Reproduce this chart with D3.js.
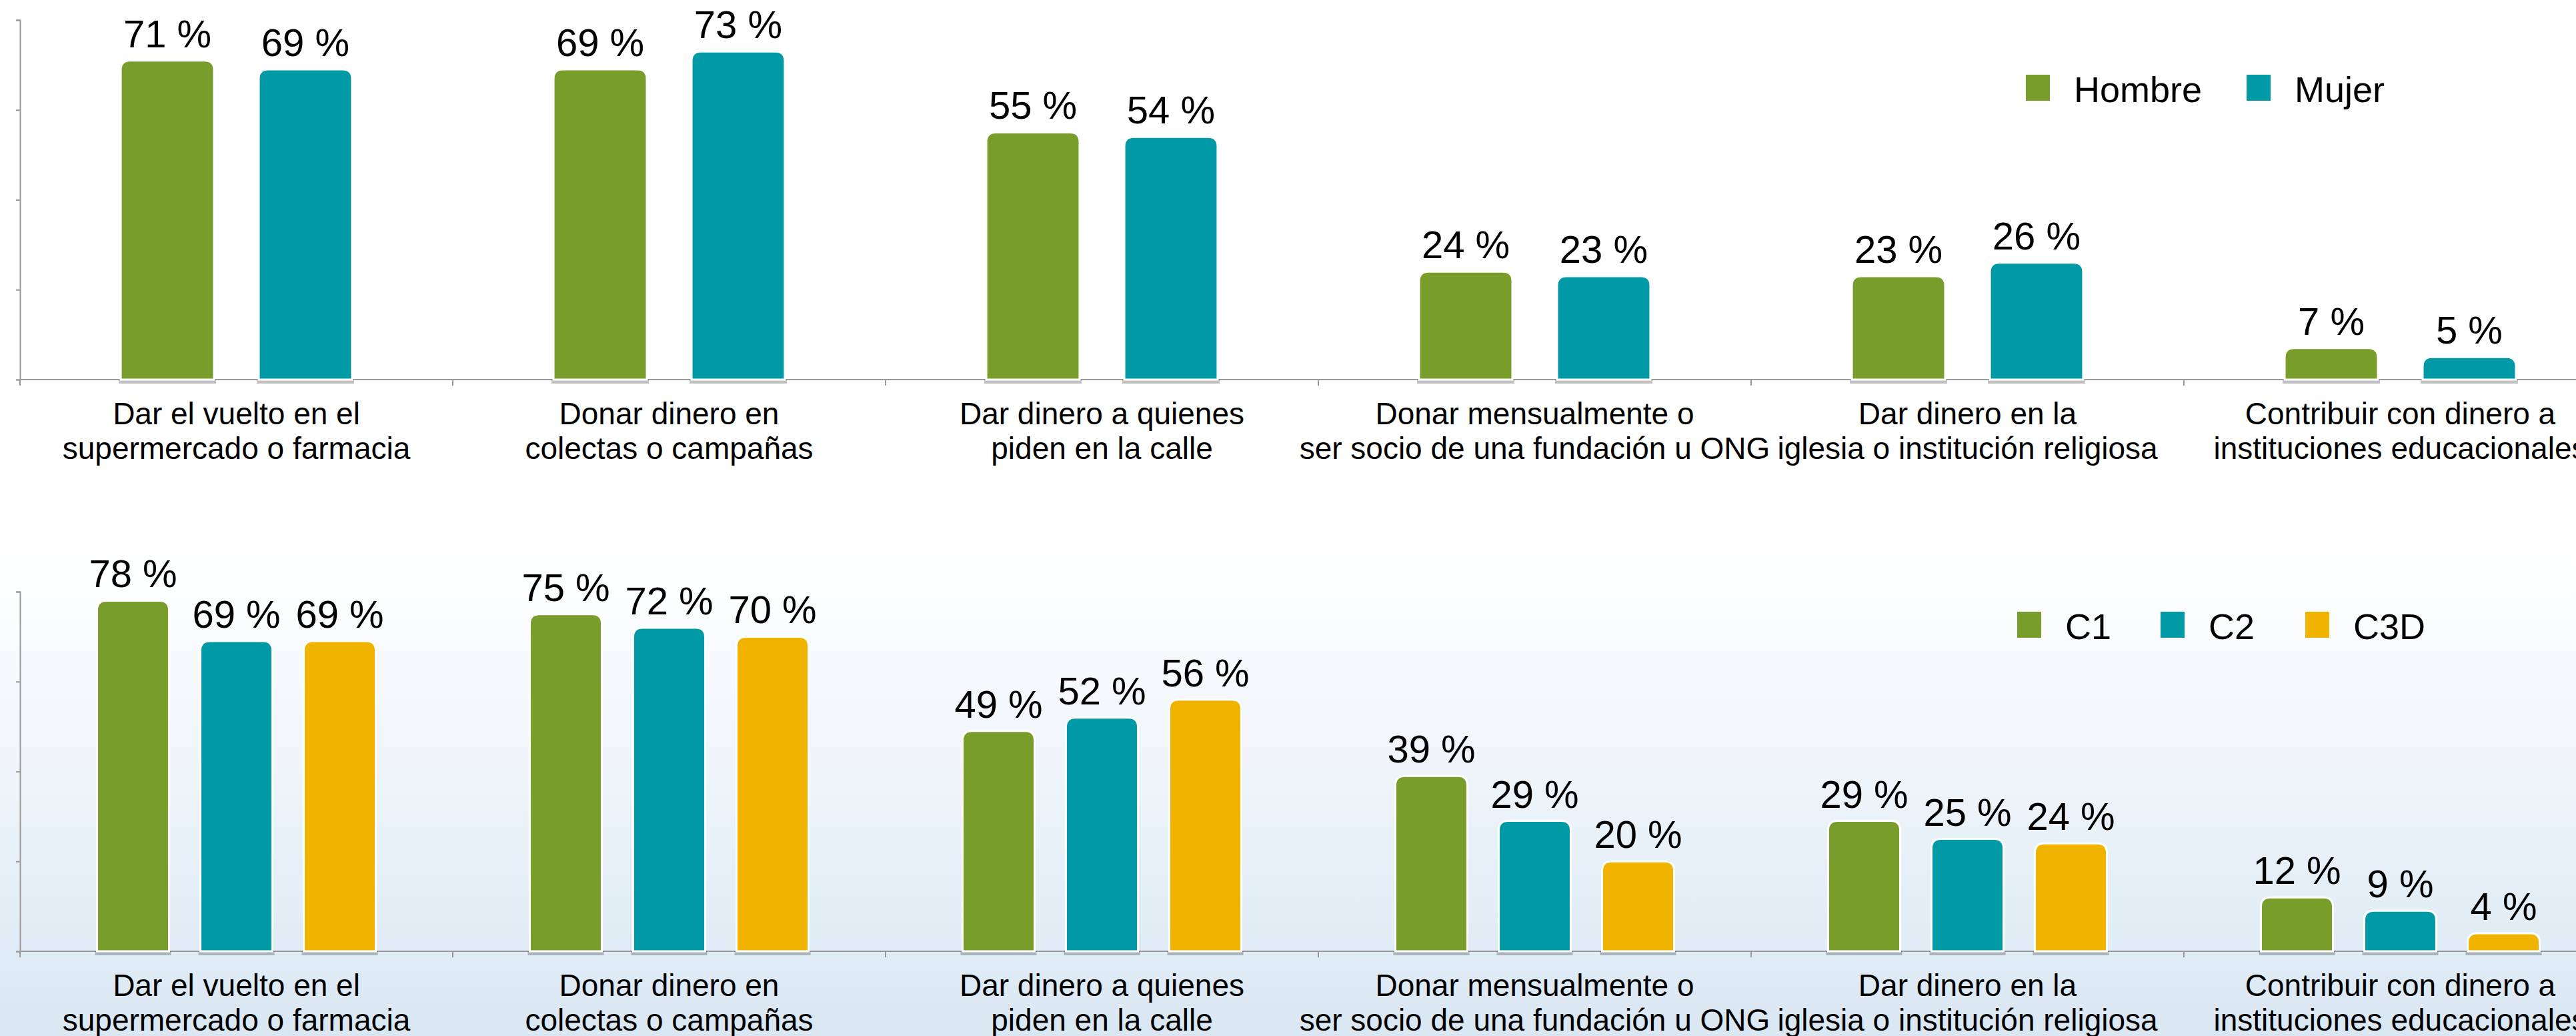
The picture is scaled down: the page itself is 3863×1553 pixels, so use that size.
<!DOCTYPE html>
<html>
<head>
<meta charset="utf-8">
<script src="https://d3js.org/d3.v7.min.js"></script>
<style>
  body { margin: 0; background: #fff; overflow: hidden; }
  svg { display: block; font-family: "Liberation Sans", Arial, Helvetica, sans-serif; }
</style>
</head>
<body>
<script>
// categories (two lines each)
var categories = [
  ["Dar el vuelto en el", "supermercado o farmacia"],
  ["Donar dinero en", "colectas o campañas"],
  ["Dar dinero a quienes", "piden en la calle"],
  ["Donar mensualmente o", "ser socio de una fundación u ONG"],
  ["Dar dinero en la", "iglesia o institución religiosa"],
  ["Contribuir con dinero a", "instituciones educacionales"]
];

// top chart: sexo
var sexoSeries = ["Hombre", "Mujer"];
var hombre = [71, 69, 55, 24, 23, 7];
var mujer  = [69, 73, 54, 23, 26, 5];

// bottom chart: nivel socioeconomico
var nseSeries = ["C1", "C2", "C3D"];
var c1  = [78, 75, 49, 39, 29, 12];
var c2  = [69, 72, 52, 29, 25, 9];
var c3d = [69, 70, 56, 20, 24, 4];

var yTicks = [0, 20, 40, 60, 80];

var colors = ["#789d2b", "#009aa7", "#f0b400"];

var W = 3863, H = 1553;
var left = 30, band = 649;

var svg = d3.select("body").append("svg")
  .attr("width", W)
  .attr("height", H);

// background gradient for lower panel
var defs = svg.append("defs");
var grad = defs.append("linearGradient")
  .attr("id", "bg").attr("x1", 0).attr("y1", 0).attr("x2", 0).attr("y2", 1);
grad.append("stop").attr("offset", "0").attr("stop-color", "#ffffff");
grad.append("stop").attr("offset", "0.15").attr("stop-color", "#fdfeff");
grad.append("stop").attr("offset", "1").attr("stop-color", "#d9e7f3");

svg.append("rect").attr("x", 0).attr("y", 0).attr("width", W).attr("height", H).attr("fill", "#fff");
svg.append("rect").attr("x", 0).attr("y", 760).attr("width", W).attr("height", H - 760).attr("fill", "url(#bg)");

var x0 = d3.scaleBand()
  .domain(d3.range(categories.length))
  .range([left, left + band * categories.length]);

// rounded top bar path
function barPath(x, y, w, h, r) {
  r = Math.min(r, h, w / 2);
  return "M" + x + "," + (y + h) +
    "V" + (y + r) +
    "Q" + x + "," + y + " " + (x + r) + "," + y +
    "H" + (x + w - r) +
    "Q" + (x + w) + "," + y + " " + (x + w) + "," + (y + r) +
    "V" + (y + h) + "Z";
}

function drawPanel(opts) {
  var g = svg.append("g");
  var y = d3.scaleLinear().domain([0, 80]).range([opts.base, opts.top]);

  var x1 = d3.scaleBand()
    .domain(opts.series)
    .range([0, x0.bandwidth()])
    .paddingInner(opts.pIn)
    .paddingOuter(opts.pOut);

  // y axis
  var yAxis = d3.axisLeft(y).tickValues(yTicks).tickSize(6).tickFormat("");
  var ya = g.append("g").attr("transform", "translate(" + left + ",0)").call(yAxis);
  ya.select(".domain").attr("stroke", "#9a9a9a").attr("stroke-width", 2);
  ya.selectAll(".tick line").attr("stroke", "#9a9a9a").attr("stroke-width", 2);

  // x axis line + category ticks
  g.append("line")
    .attr("x1", left).attr("x2", W)
    .attr("y1", opts.base).attr("y2", opts.base)
    .attr("stroke", "#9a9a9a").attr("stroke-width", 2);
  g.selectAll(".ctick").data(d3.range(categories.length + 1)).enter().append("line")
    .attr("x1", function(d) { return left + band * d; })
    .attr("x2", function(d) { return left + band * d; })
    .attr("y1", opts.base).attr("y2", opts.base + 9)
    .attr("stroke", "#9a9a9a").attr("stroke-width", 2);

  // bars
  opts.series.forEach(function(s, si) {
    var vals = opts.values[si];
    var grp = g.append("g");
    // shadow under bar
    grp.selectAll(".shadow").data(vals).enter().append("rect")
      .attr("x", function(d, i) { return x0(i) + x1(s) - 3; })
      .attr("y", opts.base)
      .attr("width", x1.bandwidth() + 6)
      .attr("height", 6)
      .attr("fill", "rgba(0,0,0,0.24)");
    grp.selectAll(".bar").data(vals).enter().append("path")
      .attr("d", function(d, i) {
        var bx = x0(i) + x1(s);
        return barPath(bx, y(d), x1.bandwidth(), opts.base - y(d), 14);
      })
      .attr("fill", colors[si])
      .attr("stroke", "#ffffff")
      .attr("stroke-width", 3);
    grp.selectAll(".val").data(vals).enter().append("text")
      .attr("x", function(d, i) { return x0(i) + x1(s) + x1.bandwidth() / 2; })
      .attr("y", function(d) { return y(d) - 20; })
      .attr("text-anchor", "middle")
      .attr("font-size", 58)
      .attr("fill", "#000")
      .text(function(d) { return d + " %"; });
  });

  // category labels
  var cl = g.selectAll(".cat").data(categories).enter().append("text")
    .attr("text-anchor", "middle")
    .attr("font-size", 46)
    .attr("fill", "#000")
    .attr("transform", function(d, i) {
      return "translate(" + (x0(i) + x0.bandwidth() / 2) + "," + (opts.base + 67) + ")";
    });
  cl.selectAll("tspan").data(function(d) { return d; }).enter().append("tspan")
    .attr("x", 0)
    .attr("dy", function(d, i) { return i === 0 ? 0 : 52; })
    .text(function(d) { return d; });

  // legend
  var lg = g.selectAll(".leg").data(opts.series).enter().append("g")
    .attr("transform", function(d, i) { return "translate(" + opts.legendX[i] + "," + opts.legendY + ")"; });
  lg.append("rect")
    .attr("x", 0).attr("y", -41)
    .attr("width", 36).attr("height", 39)
    .attr("fill", function(d, i) { return colors[i]; });
  lg.append("text")
    .attr("x", 72).attr("y", 0)
    .attr("font-size", 54)
    .attr("fill", "#000")
    .text(function(d) { return d; });
}

drawPanel({
  series: sexoSeries,
  values: [hombre, mujer],
  base: 569, top: 30,
  pIn: 0.324, pOut: 0.73,
  legendX: [3038, 3369],
  legendY: 153
});

drawPanel({
  series: nseSeries,
  values: [c1, c2, c3d],
  base: 1426, top: 887,
  pIn: 0.303, pOut: 0.745,
  legendX: [3025, 3240, 3457],
  legendY: 958
});
</script>
</body>
</html>
